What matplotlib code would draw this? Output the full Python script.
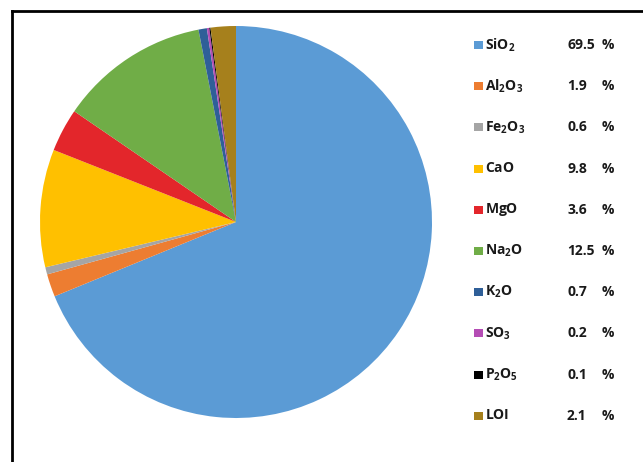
import matplotlib
matplotlib.use('Agg')
import matplotlib.pyplot as plt
from matplotlib.patches import Rectangle
from matplotlib.lines import Line2D

oxides = [r'SiO_2', r'Al_2O_3', r'Fe_2O_3', 'CaO', 'MgO', r'Na_2O', r'K_2O', r'SO_3', r'P_2O_5', 'LOI']
percent = [69.5, 1.9, 0.6, 9.8, 3.6, 12.5, 0.7, 0.2, 0.1, 2.1]
colors = ['#5B9BD5', '#ED7D31', '#A5A5A5', '#FFC000', '#E3262B',
          '#70AD47', '#2F5F98', '#B54DB5', '#000000', '#A6801C']

plt.rcParams['font.family'] = ['Open Sans', 'DejaVu Sans']
plt.rcParams['mathtext.fontset'] = 'custom'
plt.rcParams['mathtext.bf'] = 'Open Sans:bold'
plt.rcParams['mathtext.rm'] = 'Open Sans:bold'

W, H = 643, 462
fig = plt.figure(figsize=(W / 100, H / 100), dpi=100)

# pie, clockwise from 12 o'clock
cx, cy, r = 236, 222, 196
ax = fig.add_axes([(cx - r) / W, (H - cy - r) / H, 2 * r / W, 2 * r / H])
ax.pie(percent, colors=colors, startangle=90, counterclock=False,
       radius=1, wedgeprops=dict(linewidth=0))
ax.set_xlim(-1, 1)
ax.set_ylim(-1, 1)
ax.set_aspect('equal')
ax.axis('off')

# frame on the top and left
fig.add_artist(Line2D([12 / W, 1], [1 - 11 / H, 1 - 11 / H], color='black', lw=2,
                      transform=fig.transFigure))
fig.add_artist(Line2D([12 / W, 12 / W], [0, 1 - 11 / H], color='black', lw=2,
                      transform=fig.transFigure))

# legend with values
y0, dy = 45, 41.2
txt = '#1a1a1a'
for i, (name, val, c) in enumerate(zip(oxides, percent, colors)):
    y = y0 + i * dy
    fig.patches.append(Rectangle((474 / W, (H - y - 4) / H), 9 / W, 8 / H,
                                 facecolor=c, edgecolor='none',
                                 transform=fig.transFigure))
    fig.text(485 / W, 1 - y / H, r'$\mathbf{' + name + '}$', fontsize=10,
             va='center', ha='left', color=txt)
    fig.text(567 / W, 1 - y / H, f'{val}', fontsize=10, fontweight='bold',
             va='center', ha='left', color=txt)
    fig.text(602 / W, 1 - y / H, '%', fontsize=10, fontweight='bold',
             va='center', ha='left', color=txt)

fig.savefig('out.png', dpi=100)
